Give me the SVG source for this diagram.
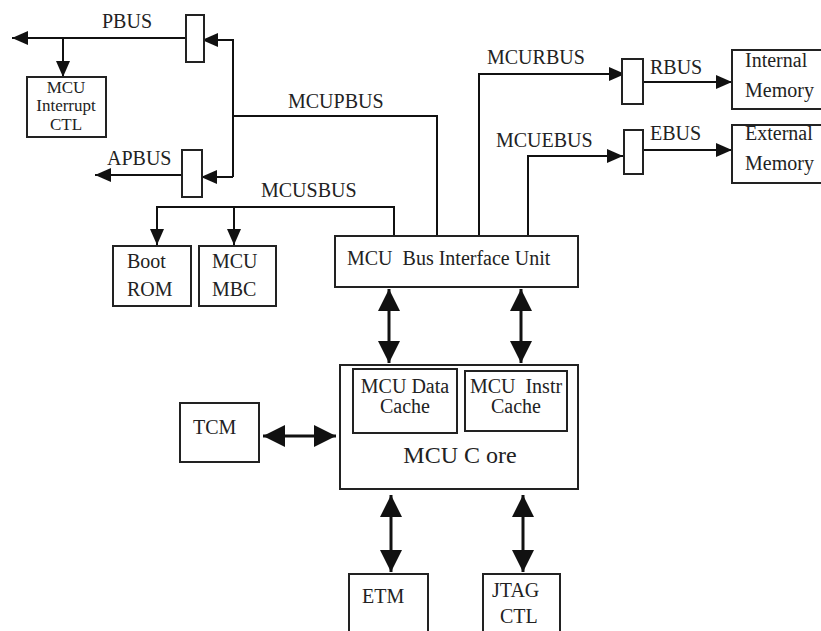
<svg xmlns="http://www.w3.org/2000/svg" width="821" height="631" viewBox="0 0 821 631">
<style>
  .box { fill: #fff; stroke: #222; stroke-width: 2; }
  .mux { fill: #fff; stroke: #222; stroke-width: 2; }
  .wire { fill: none; stroke: #111; stroke-width: 2; }
  .big { fill: none; stroke: #111; stroke-width: 3; }
  text { font-family: "Liberation Serif", Tinos, "DejaVu Serif", "Noto Serif", serif; fill: #222; font-size: 20px; }
  .sm { font-size: 17px; }
  .lg { font-size: 24px; }
  .c { text-anchor: middle; }
</style>
<defs>
  <marker id="ah" markerUnits="userSpaceOnUse" markerWidth="16" markerHeight="14" refX="16" refY="7" orient="auto">
    <path d="M0,0 L16,7 L0,14 z" fill="#111"/>
  </marker>
  <marker id="bh" markerUnits="userSpaceOnUse" markerWidth="22" markerHeight="22" refX="22" refY="11" orient="auto-start-reverse">
    <path d="M0,0 L22,11 L0,22 z" fill="#111"/>
  </marker>
</defs>

<g id="connectors" font-family="Liberation Serif, Tinos, DejaVu Serif, serif">
  <path class="wire" d="M186,38 H12" marker-end="url(#ah)"/>
  <path class="wire" d="M63,38 V77" marker-end="url(#ah)"/>
  <path class="wire" d="M437,236 V116 H233"/>
  <path class="wire" d="M233,177 V40 H202" marker-end="url(#ah)"/>
  <path class="wire" d="M233,177 H201" marker-end="url(#ah)"/>
  <path class="wire" d="M182,175 H95" marker-end="url(#ah)"/>
  <path class="wire" d="M394,236 V207 H157 V245" marker-end="url(#ah)"/>
  <path class="wire" d="M234,207 V245" marker-end="url(#ah)"/>
  <path class="wire" d="M479,236 V74 H625" marker-end="url(#ah)"/>
  <path class="wire" d="M643,82 H732" marker-end="url(#ah)"/>
  <path class="wire" d="M528,236 V156 H623" marker-end="url(#ah)"/>
  <path class="wire" d="M643,150 H732" marker-end="url(#ah)"/>
  <path class="big" d="M389,289 V363" marker-start="url(#bh)" marker-end="url(#bh)"/>
  <path class="big" d="M521,289 V363" marker-start="url(#bh)" marker-end="url(#bh)"/>
  <path class="big" d="M263,436 H336" marker-start="url(#bh)" marker-end="url(#bh)"/>
  <path class="big" d="M391,495 V572" marker-start="url(#bh)" marker-end="url(#bh)"/>
  <path class="big" d="M523,495 V572" marker-start="url(#bh)" marker-end="url(#bh)"/>
  <text x="102" y="28">PBUS</text>
  <text x="107" y="165">APBUS</text>
  <text x="288" y="108">MCUPBUS</text>
  <text x="261" y="197">MCUSBUS</text>
  <text x="487" y="64">MCURBUS</text>
  <text x="650" y="74">RBUS</text>
  <text x="496" y="147">MCUEBUS</text>
  <text x="650" y="140">EBUS</text>
</g>

<g id="pbus-mux"><rect class="mux" x="186" y="15" width="18" height="47"/></g>
<g id="apbus-mux"><rect class="mux" x="182" y="150" width="20" height="47"/></g>
<g id="rbus-mux"><rect class="mux" x="622" y="59" width="21" height="45"/></g>
<g id="ebus-mux"><rect class="mux" x="624" y="130" width="19" height="44"/></g>

<g id="mcu-interrupt-ctl">
  <rect class="box" x="27" y="77" width="79" height="60"/>
  <text class="sm c" x="66" y="93">MCU</text>
  <text class="sm c" x="66" y="111">Interrupt</text>
  <text class="sm c" x="66" y="130">CTL</text>
</g>

<g id="boot-rom">
  <rect class="box" x="113" y="246" width="78" height="60"/>
  <text x="127" y="268">Boot</text>
  <text x="127" y="296">ROM</text>
</g>

<g id="mcu-mbc">
  <rect class="box" x="199" y="246" width="77" height="60"/>
  <text x="212" y="268">MCU</text>
  <text x="212" y="296">MBC</text>
</g>

<g id="biu">
  <rect class="box" x="335" y="236" width="243" height="51"/>
  <text x="347" y="265" xml:space="preserve">MCU  Bus Interface Unit</text>
</g>

<g id="internal-memory">
  <rect class="box" x="732" y="50" width="100" height="59"/>
  <text x="745" y="67">Internal</text>
  <text x="745" y="97">Memory</text>
</g>

<g id="external-memory">
  <rect class="box" x="732" y="125" width="100" height="58"/>
  <text x="745" y="140">External</text>
  <text x="745" y="170">Memory</text>
</g>

<g id="mcu-core">
  <rect class="box" x="340" y="365" width="238" height="124"/>
  <text class="lg c" x="460" y="463" xml:space="preserve">MCU C ore</text>
</g>

<g id="data-cache">
  <rect class="box" x="353" y="369" width="104" height="64"/>
  <text class="c" x="405" y="393">MCU Data</text>
  <text class="c" x="405" y="413">Cache</text>
</g>

<g id="instr-cache">
  <rect class="box" x="465" y="371" width="102" height="60"/>
  <text class="c" x="516" y="393" xml:space="preserve">MCU  Instr</text>
  <text class="c" x="516" y="413">Cache</text>
</g>

<g id="tcm">
  <rect class="box" x="180" y="403" width="79" height="59"/>
  <text x="193" y="434">TCM</text>
</g>

<g id="etm">
  <rect class="box" x="349" y="574" width="79" height="70"/>
  <text x="362" y="603">ETM</text>
</g>

<g id="jtag-ctl">
  <rect class="box" x="483" y="574" width="77" height="70"/>
  <text x="492" y="597">JTAG</text>
  <text x="500" y="623">CTL</text>
</g>
</svg>
